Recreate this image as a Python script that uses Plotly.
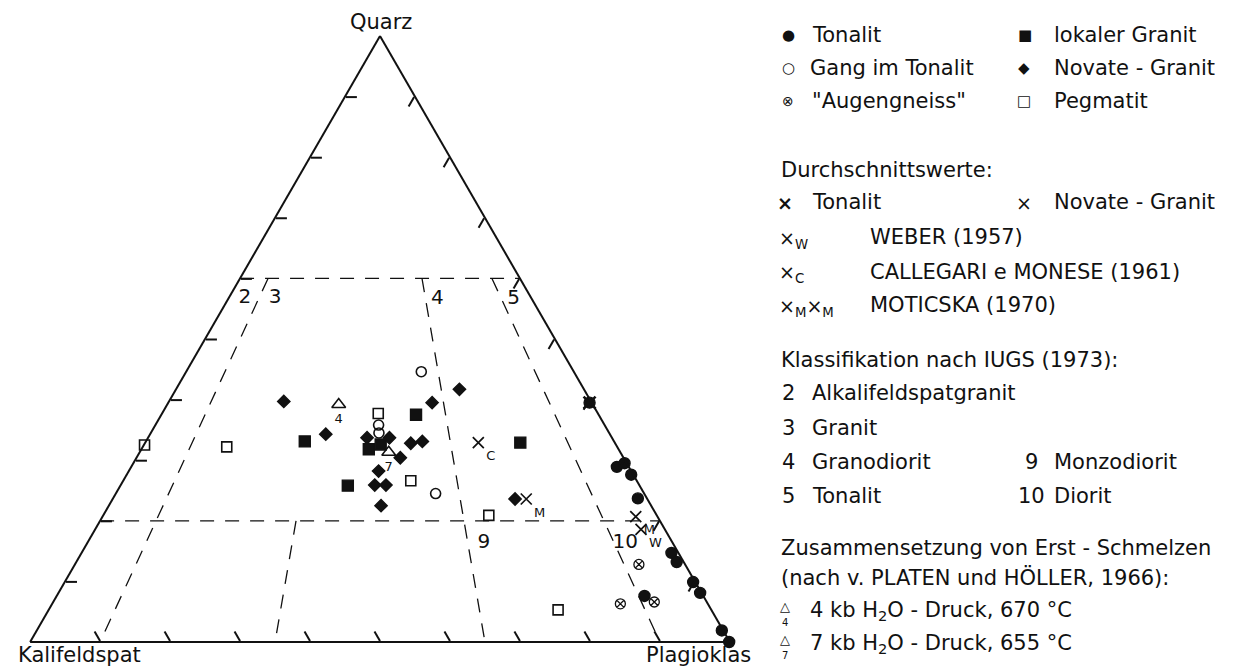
import plotly.graph_objects as go

W, H = 1260, 669

# ---------------- data (Q = Quarz, A = Kalifeldspat, P = Plagioklas, in %) ----------------
ton_q = [39.5, 28.9, 29.5, 27.6, 23.7, 14.7, 13.2, 9.9, 8.1, 1.9, 0.0, 7.6]
ton_a = [0.3, 1.7, 0.3, 0.3, 1.3, 1.0, 1.0, 0.3, 0.2, 0.2, 0.1, 8.4]
ton_p = [60.2, 69.4, 70.2, 72.1, 75.0, 84.3, 85.8, 89.8, 91.7, 97.9, 99.9, 84.0]

gang_q = [44.6, 35.8, 34.5, 24.5]
gang_a = [21.8, 32.3, 32.9, 29.8]
gang_p = [33.6, 31.9, 32.6, 45.7]

aug_q = [12.8, 6.3, 6.6]
aug_a = [6.6, 12.5, 7.5]
aug_p = [80.6, 81.2, 85.9]

lok_q = [33.1, 25.8, 37.5, 32.9, 31.8, 32.6]
lok_a = [44.2, 41.7, 26.1, 13.5, 35.7, 33.6]
lok_p = [22.7, 32.5, 36.4, 53.6, 32.5, 33.8]

nov_q = [39.7, 34.3, 33.7, 33.7, 30.4, 32.8, 33.1, 39.5, 41.7, 28.2, 25.9, 25.9, 22.5, 23.6]
nov_a = [43.9, 40.6, 35.0, 31.8, 31.9, 29.2, 27.4, 22.8, 17.8, 36.1, 37.8, 36.2, 38.6, 18.9]
nov_p = [16.4, 25.1, 31.3, 34.5, 37.7, 38.0, 39.5, 37.7, 40.5, 35.7, 36.3, 37.9, 38.9, 57.5]

peg_q = [32.5, 32.2, 37.7, 26.6, 20.9, 5.3]
peg_a = [67.4, 55.8, 31.4, 32.3, 24.0, 21.9]
peg_p = [0.1, 12.0, 30.9, 41.1, 55.1, 72.8]

melt_q = [39.2, 31.3]
melt_a = [36.3, 33.1]
melt_p = [24.5, 35.6]
melt_lbl = ["4", "7"]

avg_q = [32.9, 23.6, 20.7, 18.6]
avg_a = [19.5, 17.3, 3.1, 3.4]
avg_p = [47.6, 59.1, 76.2, 78.0]
avg_lbl = ["C", "M", "M", "W"]

tonavg_q = [39.5]
tonavg_a = [0.3]
tonavg_p = [60.2]

# IUGS field boundaries (start, end) as (Q, A, P)
bounds = [
    [(60, 40, 0), (60, 0, 40)],
    [(20, 80, 0), (20, 0, 80)],
    [(60, 36, 4), (0, 90, 10)],
    [(20, 52, 28), (0, 65, 35)],
    [(60, 14, 26), (0, 35, 65)],
    [(60, 4, 36), (0, 10, 90)],
]

field_lbl = ["2", "3", "4", "5", "9", "10"]
field_q = [56.8, 56.8, 56.6, 56.6, 16.3, 16.3]
field_a = [40.9, 36.6, 13.5, 2.6, 27.0, 6.8]
field_p = [2.3, 6.6, 29.9, 40.8, 56.7, 76.9]

FONT = "DejaVu Sans"
INK = "#111111"
FS = 21

fig = go.Figure()

for (s, e) in bounds:
    fig.add_trace(go.Scatterternary(
        a=[s[0], e[0]], b=[s[1], e[1]], c=[s[2], e[2]], mode="lines",
        line=dict(color=INK, width=1.3, dash="14px,11px"), hoverinfo="skip",
        showlegend=False, cliponaxis=False))

fig.add_trace(go.Scatterternary(
    a=field_q, b=field_a, c=field_p, mode="text", text=field_lbl,
    textfont=dict(family=FONT, size=20, color=INK), hoverinfo="skip",
    showlegend=False, cliponaxis=False))

def pts(q, a, p, symbol, size, lw=1.4, **kw):
    fig.add_trace(go.Scatterternary(
        a=q, b=a, c=p, mode=kw.pop("mode", "markers"),
        marker=dict(symbol=symbol, size=size, color=INK,
                    line=dict(color=INK, width=lw)),
        hoverinfo="skip", showlegend=False, cliponaxis=False, **kw))

pts(ton_q, ton_a, ton_p, "circle", 11)
pts(gang_q, gang_a, gang_p, "circle-open", 10, lw=1.6)
pts(aug_q, aug_a, aug_p, "circle-x-open", 10, lw=1.3)
pts(lok_q, lok_a, lok_p, "square", 11)
pts(nov_q, nov_a, nov_p, "diamond", 9.5)
pts(peg_q, peg_a, peg_p, "square-open", 10, lw=1.6)
pts(melt_q, melt_a, melt_p, "triangle-up-open", 12, lw=1.6, mode="markers+text", text=melt_lbl,
    textposition="bottom center", textfont=dict(family=FONT, size=13, color=INK))
pts(avg_q, avg_a, avg_p, "x-thin-open", 11, lw=1.7, mode="markers+text", text=avg_lbl,
    textposition="bottom right", textfont=dict(family=FONT, size=13, color=INK))
pts(tonavg_q, tonavg_a, tonavg_p, "x-thin-open", 12, lw=2.6)

axis_common = dict(showgrid=False, showline=True, linecolor=INK, linewidth=2,
                   ticks="inside", ticklen=11, tickcolor=INK, tickwidth=1.5,
                   tickmode="array", tickvals=[10, 20, 30, 40, 50, 60, 70, 80, 90],
                   showticklabels=False, title=dict(text=""))

fig.update_layout(
    width=W, height=H,
    margin=dict(l=0, r=0, t=0, b=0),
    paper_bgcolor="white", plot_bgcolor="white",
    showlegend=False,
    ternary=dict(
        sum=100,
        bgcolor="white",
        domain=dict(x=[30 / W, 730 / W], y=[1 - 642 / H, 1 - 36 / H]),
        aaxis=axis_common, baxis=axis_common, caxis=axis_common,
    ),
)

ann = []
def txt(x, y, s, size=FS, anchor="left"):
    ann.append(dict(x=x / W, y=1 - y / H, xref="paper", yref="paper", text=s,
                    showarrow=False, xanchor=anchor, yanchor="middle",
                    font=dict(family=FONT, size=size, color=INK)))

# vertex labels
txt(381, 22, "Quarz", 21, "center")
txt(79, 655, "Kalifeldspat", 21, "center")
txt(698, 655, "Plagioklas", 21, "center")

# legend: sample types
SYM = 15
txt(788, 35, "●", SYM, "center"); txt(810, 35, "Tonalit")
txt(788, 68, "○", SYM, "center"); txt(808, 68, "Gang im Tonalit")
txt(788, 101, "⊗", 14, "center"); txt(810, 101, "\"Augengneiss\"")
txt(1025, 35, "■", SYM, "center"); txt(1052, 35, "lokaler Granit")
txt(1024, 68, "◆", SYM, "center"); txt(1052, 68, "Novate - Granit")
txt(1024, 101, "□", SYM, "center"); txt(1052, 101, "Pegmatit")

# averages
txt(779, 170, "Durchschnittswerte:")
txt(785, 203, "<b>×</b>", 19, "center"); txt(810, 202, "Tonalit")
txt(1024, 203, "×", 19, "center"); txt(1052, 202, "Novate - Granit")
txt(777, 239, "×<sub>W</sub>", 19); txt(868, 237, "WEBER (1957)")
txt(777, 273, "×<sub>C</sub>", 19); txt(868, 272, "CALLEGARI e MONESE (1961)")
txt(777, 307, "×<sub>M</sub>×<sub>M</sub>", 19); txt(868, 305, "MOTICSKA (1970)")

# classification
txt(779, 360, "Klassifikation nach IUGS (1973):")
txt(780, 393, "2"); txt(810, 393, "Alkalifeldspatgranit")
txt(780, 428, "3"); txt(810, 428, "Granit")
txt(780, 462, "4"); txt(810, 462, "Granodiorit")
txt(780, 496, "5"); txt(810, 496, "Tonalit")
txt(1023, 462, "9"); txt(1052, 462, "Monzodiorit")
txt(1016, 496, "10"); txt(1052, 496, "Diorit")

# first melts
txt(779, 548, "Zusammensetzung von Erst - Schmelzen")
txt(779, 577, "(nach v. PLATEN und HÖLLER, 1966):")
txt(785, 606, "△", 13, "center"); txt(785, 622, "4", 10, "center")
txt(808, 611, "4 kb H<sub>2</sub>O - Druck, 670 °C")
txt(785, 639, "△", 13, "center"); txt(785, 655, "7", 10, "center")
txt(808, 644, "7 kb H<sub>2</sub>O - Druck, 655 °C")

fig.update_layout(annotations=ann)

fig.write_html("out.html")
